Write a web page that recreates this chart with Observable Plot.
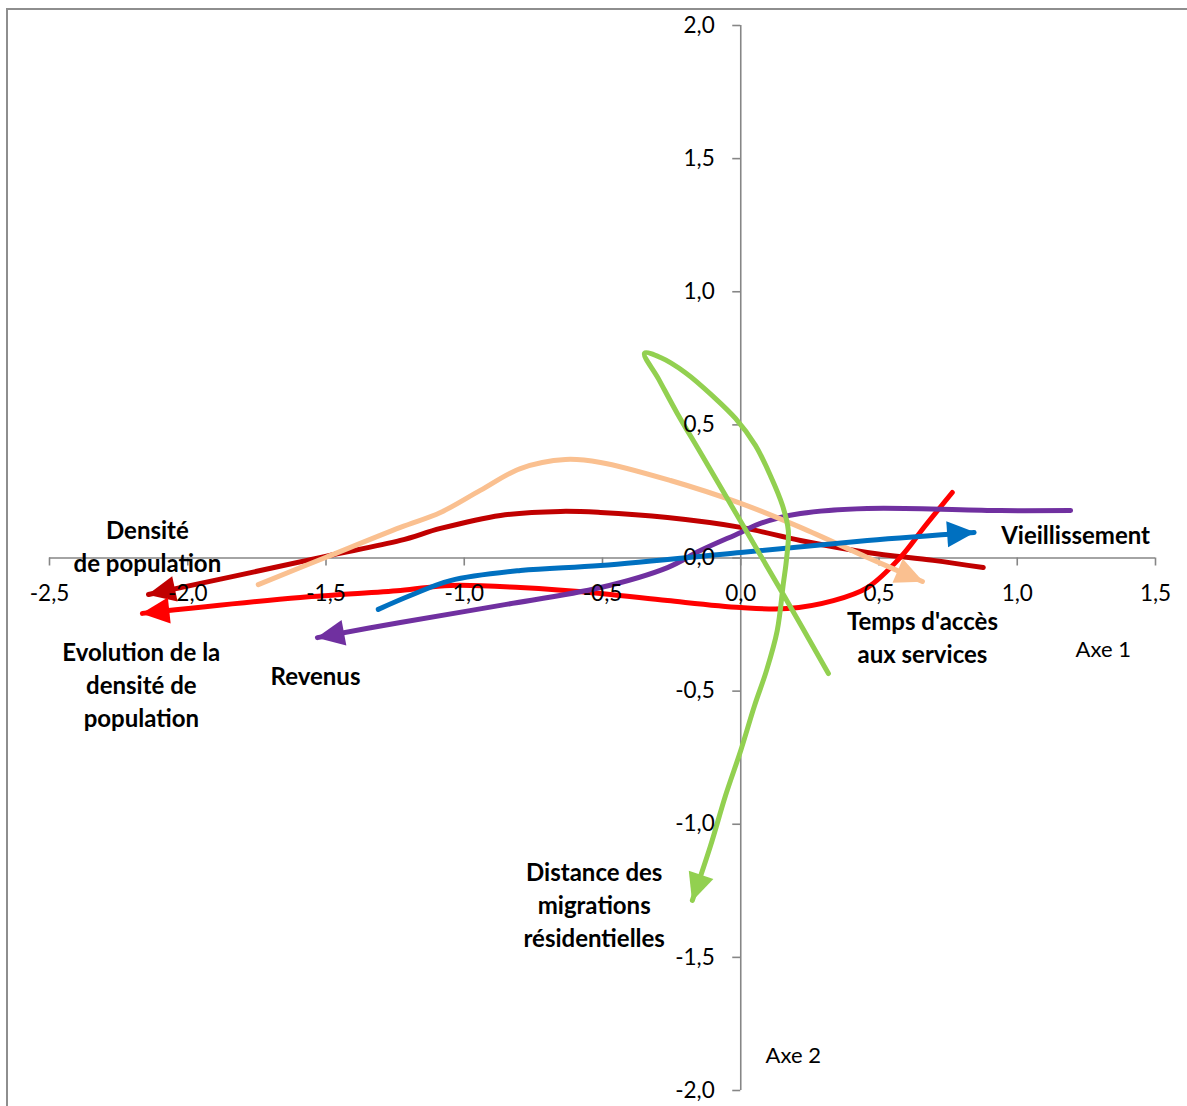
<!DOCTYPE html>
<html><head><meta charset="utf-8">
<script src="https://cdn.jsdelivr.net/npm/d3@7"></script>
<script src="https://cdn.jsdelivr.net/npm/@observablehq/plot@0.6"></script>
<style>
html,body{margin:0;padding:0;background:#fff;}
#wrap{position:relative;width:1187px;height:1106px;overflow:hidden;}
#frame{position:absolute;left:6px;top:8px;width:1300px;height:1300px;border-top:2px solid #8e8e8e;border-left:2px solid #8e8e8e;}
#chart{position:absolute;left:0;top:0;}
</style></head><body>
<div id="wrap"><div id="frame"></div><div id="chart"></div></div>
<script>
// ---- data ----
const variables = ["Densité de population", "Evolution de la densité de population", "Revenus",
  "Temps d'accès aux services", "Vieillissement", "Distance des migrations résidentielles"];
const colors = ["#C00000", "#FF0000", "#7030A0", "#FAC090", "#0070C0", "#92D050"];

const densite = [[0.877,-0.036],[0.696,-0.009],[0.458,0.021],[0.216,0.066],[0.0,0.115],[-0.265,0.152],
  [-0.507,0.171],[-0.652,0.175],[-0.869,0.160],[-1.086,0.111],[-1.231,0.066],[-1.502,0.006],[-1.835,-0.069],[-2.142,-0.137]];
const evolution = [[0.765,0.246],[0.668,0.122],[0.577,0.002],[0.458,-0.111],[0.335,-0.160],[0.168,-0.190],
  [0.0,-0.186],[-0.265,-0.160],[-0.507,-0.133],[-0.797,-0.111],[-1.050,-0.103],[-1.231,-0.122],[-1.593,-0.148],[-2.164,-0.208]];
const revenus = [[1.193,0.178],[0.94,0.178],[0.458,0.186],[0.216,0.167],[0.071,0.13],[0.0,0.096],[-0.146,0.028],
  [-0.265,-0.036],[-0.507,-0.111],[-0.869,-0.178],[-1.231,-0.242],[-1.531,-0.299]];
const temps = [[-1.745,-0.1],[-1.502,0.002],[-1.231,0.115],[-1.086,0.171],[-0.942,0.254],[-0.797,0.336],[-0.634,0.37],
  [-0.507,0.359],[-0.254,0.291],[0.0,0.205],[0.216,0.115],[0.458,0.002],[0.657,-0.088]];
const vieillissement = [[-1.311,-0.193],[-1.195,-0.141],[-1.050,-0.085],[-0.797,-0.047],[-0.507,-0.028],[0.0,0.021],[0.458,0.066],[0.844,0.096]];
const distance = [[0.317,-0.434],[0.154,-0.137],[0.0,0.137],[-0.146,0.396],[-0.229,0.542],[-0.297,0.672],
  [-0.348,0.769],[-0.290,0.753],[-0.200,0.696],[-0.102,0.609],[-0.019,0.524],[0.053,0.423],[0.107,0.310],[0.151,0.197],
  [0.172,0.103],[0.165,-0.009],[0.154,-0.096],[0.132,-0.272],[0.093,-0.423],[0.050,-0.554],[0.0,-0.723],
  [-0.055,-0.892],[-0.109,-1.080],[-0.175,-1.286]];
const series = [densite, evolution, revenus, temps, vieillissement, distance];

const xTicks = [-2.5, -2.0, -1.5, -1.0, -0.5, 0.0, 0.5, 1.0, 1.5];
const yTicks = [-2.0, -1.5, -1.0, -0.5, 0.0, 0.5, 1.0, 1.5, 2.0];

const labelTexts = ["Densité\nde population", "Evolution de la\ndensité de\npopulation", "Revenus",
  "Temps d'accès\naux services", "Vieillissement", "Distance des\nmigrations\nrésidentielles"];
const labelX = [-2.146, -2.168, -1.538, 0.657, 1.211, -0.53];
const labelY = [0.049, -0.471, -0.438, -0.291, 0.092, -1.298];
const axisTitles = ["Axe 1", "Axe 2"];
const axisTitleX = [1.311, 0.19];
const axisTitleY = [-0.347, -1.869];

// ---- chart ----
const fmt = d => d.toFixed(1).replace(".", ",");
const axisColor = "#868686";
const labels = labelTexts.map((t, i) => ({t, x: labelX[i], y: labelY[i]}));
const titles = axisTitles.map((t, i) => ({t, x: axisTitleX[i], y: axisTitleY[i]}));

const lineMarks = series.map((s, i) => Plot.line(s, {
  x: d => d[0], y: d => d[1], stroke: colors[i], strokeWidth: 5,
  curve: "catmull-rom", markerEnd: "arrow"
}));

const chart = Plot.plot({
  width: 1187, height: 1106,
  marginLeft: 49, marginRight: 32, marginTop: 25, marginBottom: 16,
  x: {domain: [-2.5, 1.5], axis: null},
  y: {domain: [-2, 2], axis: null},
  style: {fontFamily: "Lato, 'Open Sans', sans-serif", background: "transparent", color: "#000"},
  marks: [
    Plot.ruleY([0], {stroke: axisColor, strokeWidth: 1.6}),
    Plot.ruleX([0], {stroke: axisColor, strokeWidth: 1.6}),
    Plot.ruleX(xTicks, {x: d => d, y1: 0, y2: 0, insetBottom: -8, stroke: axisColor, strokeWidth: 1.6}),
    Plot.ruleY(yTicks, {y: d => d, x1: 0, x2: 0, insetLeft: -8, stroke: axisColor, strokeWidth: 1.6}),
    ...lineMarks,
    Plot.text(xTicks, {x: d => d, y: 0, dy: 36, text: fmt, fontSize: 22.5, fill: "#000"}),
    Plot.text(yTicks, {x: 0, y: d => d, dx: -26, textAnchor: "end", text: fmt, fontSize: 22.5, fill: "#000"}),
    Plot.text(labels, {x: "x", y: "y", text: "t", fontSize: 24, fontWeight: "bold", lineHeight: 1.375, fill: "#000"}),
    Plot.text(titles, {x: "x", y: "y", text: "t", fontSize: 22, fill: "#000"})
  ]
});

// replace Plot's open arrow markers with filled triangles (tip at the line end)
chart.querySelectorAll("marker").forEach(m => {
  const color = m.getAttribute("stroke");
  m.setAttribute("viewBox", "-29 -15 30 30");
  m.setAttribute("markerWidth", 30);
  m.setAttribute("markerHeight", 30);
  m.setAttribute("markerUnits", "userSpaceOnUse");
  m.setAttribute("stroke", "none");
  m.setAttribute("fill", color);
  while (m.firstChild) m.removeChild(m.firstChild);
  const p = document.createElementNS("http://www.w3.org/2000/svg", "path");
  p.setAttribute("d", "M-27,-13L1,0L-27,13Z");
  p.setAttribute("fill", color);
  m.appendChild(p);
});
document.getElementById("chart").appendChild(chart);
</script></body></html>
